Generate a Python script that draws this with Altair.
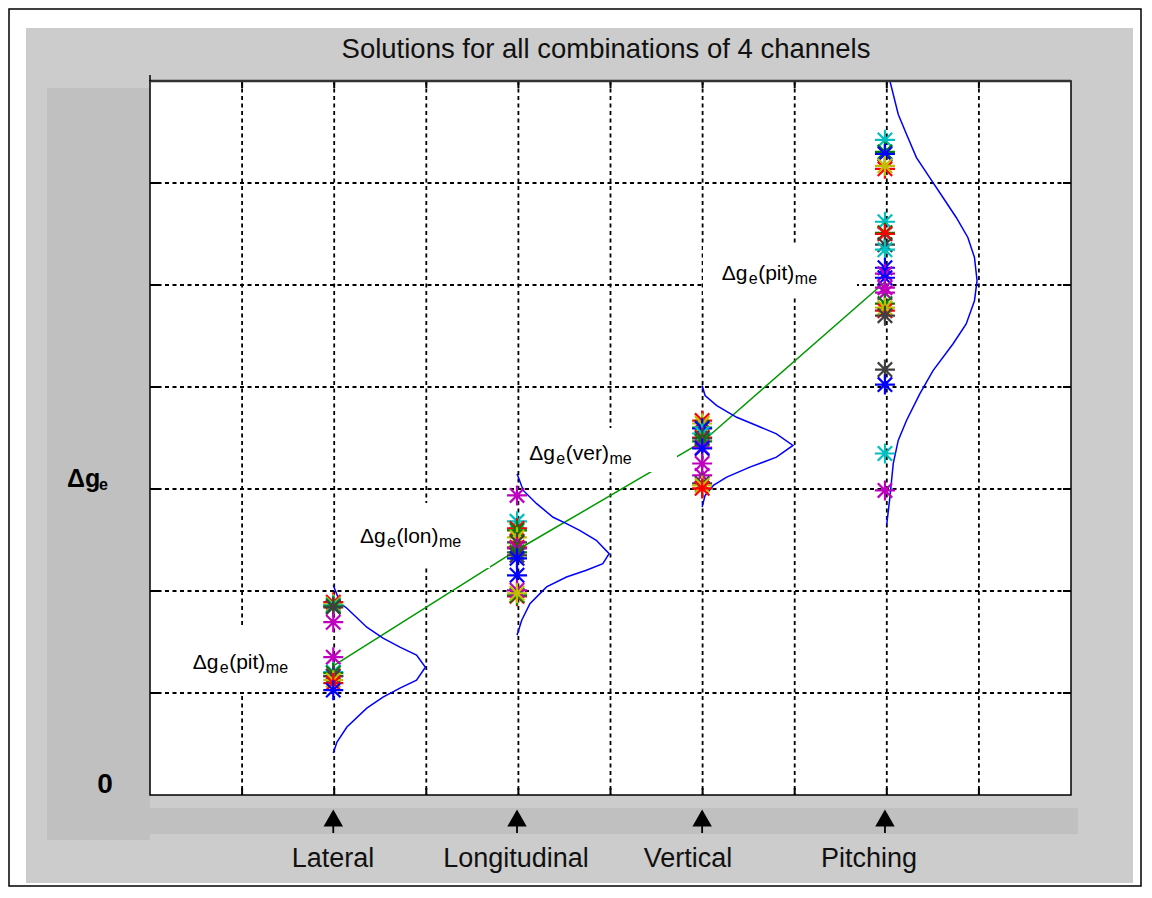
import altair as alt
import pandas as pd

# ---------------- data ----------------
categories = ["Lateral", "Longitudinal", "Vertical", "Pitching"]
category_pos = [1.99, 3.985, 5.995, 7.98]          # x position of each channel column
label_pos = [1.987, 3.974, 5.841, 7.807]           # x position of the text under each arrow
mean_values = [1.265, 2.402, 3.461, 5.029]         # green line (mean of each column)

# star markers: value and MATLAB colour letter, per column
lat_vals = [1.890, 1.870, 1.860, 1.850, 1.840, 1.694, 1.351, 1.205, 1.195, 1.165, 1.165, 1.126, 1.097, 1.028]
lat_cols = ["r", "y", "c", "g", "k", "m", "m", "c", "g", "m", "k", "y", "r", "b"]
lon_vals = [2.937, 2.683, 2.614, 2.594, 2.526, 2.477, 2.428, 2.418, 2.379, 2.350, 2.320, 2.154, 1.948, 1.958, 2.007, 1.978]
lon_cols = ["m", "c", "r", "g", "y", "k", "r", "m", "g", "k", "b", "b", "r", "g", "m", "y"]
ver_vals = [3.671, 3.642, 3.603, 3.593, 3.544, 3.505, 3.495, 3.466, 3.407, 3.397, 3.250, 3.133, 3.055, 3.035, 3.006]
ver_cols = ["r", "y", "g", "b", "c", "r", "k", "g", "m", "b", "m", "m", "k", "y", "r"]
pit_vals = [6.423, 6.305, 6.285, 6.139, 6.168, 5.620, 5.512, 5.502, 5.395, 5.346, 5.169, 5.111, 5.071,
            4.974, 4.925, 4.817, 4.748, 4.778, 4.699, 4.171, 4.024, 3.348, 2.986]
pit_cols = ["c", "g", "b", "r", "y", "c", "g", "r", "k", "c", "b", "m", "b",
            "m", "m", "g", "r", "y", "k", "k", "b", "c", "m"]

# blue distribution curves: value along y and horizontal extent (in grid units)
lat_curve_y = [2.056, 1.880, 1.831, 1.645, 1.537, 1.449, 1.371, 1.253, 1.126, 1.048, 0.959, 0.852, 0.666, 0.519, 0.411]
lat_curve_w = [0.0, 0.076, 0.148, 0.364, 0.54, 0.724, 0.904, 1.0, 0.904, 0.724, 0.54, 0.364, 0.148, 0.04, 0.0]
lon_curve_y = [3.150, 2.986, 2.856, 2.723, 2.660, 2.594, 2.497, 2.366, 2.268, 2.203, 2.137, 2.040, 1.876, 1.713, 1.566]
lon_curve_w = [0.0, 0.068, 0.213, 0.392, 0.537, 0.680, 0.861, 1.0, 0.932, 0.753, 0.537, 0.321, 0.140, 0.051, 0.0]
ver_curve_y = [4.014, 3.916, 3.818, 3.703, 3.622, 3.541, 3.427, 3.312, 3.214, 3.116, 3.035, 2.937, 2.823]
ver_curve_w = [0.0, 0.032, 0.159, 0.375, 0.591, 0.807, 0.986, 0.807, 0.518, 0.267, 0.122, 0.032, 0.0]
pit_curve_y = [7.000, 6.674, 6.478, 6.249, 6.053, 5.858, 5.662, 5.466, 5.270, 5.042, 4.846, 4.618, 4.422,
               4.161, 3.933, 3.672, 3.476, 3.248, 2.921, 2.643]
pit_curve_w = [0.054, 0.144, 0.234, 0.342, 0.486, 0.630, 0.774, 0.900, 0.972, 1.0, 0.972, 0.882, 0.738,
               0.522, 0.378, 0.234, 0.144, 0.090, 0.054, 0.018]

grid_x = [1, 2, 3, 4, 5, 6, 7, 8, 9]
grid_y = [1, 2, 3, 4, 5, 6]

title_text = "Solutions for all combinations of 4 channels"
ann_words = ["(pit)", "(lon)", "(ver)", "(pit)"]

# ---------------- styling / layout ----------------
COLORS = {"r": "#ff0000", "g": "#008000", "b": "#0000ff", "c": "#00bfbf",
          "m": "#bf00bf", "y": "#bfbf00", "k": "#404040"}
FONT = "Liberation Sans, Arial, Helvetica, sans-serif"
W, H = 921, 714
LEFT, TOP = 150, 81          # page position of the plot area's top-left corner
UX, UY = W / 10.0, H / 7.0   # pixels per unit

xs = alt.Scale(domain=[0, 10], nice=False, zero=False)
ys = alt.Scale(domain=[0, 7], nice=False, zero=False)
ONE = pd.DataFrame({"a": [0]})


def ux(p):  # page px -> x units
    return (p - LEFT) / UX


def uy(p):  # page px -> y units
    return (TOP + H - p) / UY


def box(x1, y1, x2, y2, **kw):
    return alt.Chart(ONE).mark_rect(**kw).encode(
        x=alt.value(x1 - LEFT), x2=alt.value(x2 - LEFT),
        y=alt.value(y1 - TOP), y2=alt.value(y2 - TOP))


X = lambda f: alt.X(f, scale=xs, axis=None)
Y = lambda f: alt.Y(f, scale=ys, axis=None)

# figure chrome
outer = box(9, 9, 1141, 886, fill="white", stroke="black", strokeWidth=1.5)
gray = box(26, 28, 1133, 883, fill="#cccccc")
dark_left = box(47, 88, 150, 840, fill="#c0c0c0")
dark_bottom = box(150, 808, 1078, 834, fill="#c0c0c0")
plot_bg = box(LEFT, TOP, LEFT + W, TOP + H, fill="white")

# grid
GRID = dict(color="black", strokeDash=[4, 3.5], strokeWidth=1.8)
gx = alt.Chart(pd.DataFrame({"v": grid_x})).mark_rule(**GRID).encode(
    x=X("v:Q"), y=alt.value(0), y2=alt.value(H))
gy = alt.Chart(pd.DataFrame({"v": grid_y})).mark_rule(**GRID).encode(
    y=Y("v:Q"), x=alt.value(0), x2=alt.value(W))

# inner ticks
tk = dict(color="black", strokeWidth=2)
tb = alt.Chart(pd.DataFrame({"v": grid_x})).mark_rule(**tk).encode(x=X("v:Q"), y=alt.value(H), y2=alt.value(H - 7))
tt = alt.Chart(pd.DataFrame({"v": grid_x})).mark_rule(**tk).encode(x=X("v:Q"), y=alt.value(0), y2=alt.value(7))
tl = alt.Chart(pd.DataFrame({"v": grid_y})).mark_rule(**tk).encode(y=Y("v:Q"), x=alt.value(0), x2=alt.value(8))
tr = alt.Chart(pd.DataFrame({"v": grid_y})).mark_rule(**tk).encode(y=Y("v:Q"), x=alt.value(W), x2=alt.value(W - 8))

# green mean line
mean_df = pd.DataFrame({"x": category_pos, "y": mean_values, "i": range(4)})
green = alt.Chart(mean_df).mark_line(color="#009900", strokeWidth=1.5).encode(
    x=X("x:Q"), y=Y("y:Q"), order="i:Q")

# white boxes behind the annotations (page px)
ann_boxes = [(185, 628, 300, 692), (350, 503, 490, 568), (525, 428, 677, 472), (703, 245, 857, 297)]
wb = alt.Chart(pd.DataFrame({
    "x1": [ux(b[0]) for b in ann_boxes], "x2": [ux(b[2]) for b in ann_boxes],
    "y1": [uy(b[1]) for b in ann_boxes], "y2": [uy(b[3]) for b in ann_boxes]})).mark_rect(
    fill="white").encode(x=X("x1:Q"), x2="x2:Q", y=Y("y1:Q"), y2="y2:Q")

# blue curves
rows = []
for c, pos, cy, cw in zip(categories, category_pos,
                          [lat_curve_y, lon_curve_y, ver_curve_y, pit_curve_y],
                          [lat_curve_w, lon_curve_w, ver_curve_w, pit_curve_w]):
    for i, (yy, ww) in enumerate(zip(cy, cw)):
        rows.append({"cat": c, "i": i, "x": pos + ww, "y": yy})
curves = alt.Chart(pd.DataFrame(rows)).mark_line(color="#0000ff", strokeWidth=1.5, clip=True).encode(
    x=X("x:Q"), y=Y("y:Q"), detail="cat:N", order="i:Q")

# stars
srows = []
k = 0
for pos, vals, cols in zip(category_pos, [lat_vals, lon_vals, ver_vals, pit_vals],
                           [lat_cols, lon_cols, ver_cols, pit_cols]):
    for v, c in zip(vals, cols):
        srows.append({"x": pos, "y": v, "col": COLORS[c], "k": k})
        k += 1
STAR = "M-1,0L1,0M0,-1L0,1M-0.72,-0.72L0.72,0.72M-0.72,0.72L0.72,-0.72"
stars = alt.Chart(pd.DataFrame(srows)).mark_point(
    shape=STAR, filled=False, size=400, strokeWidth=2.2, opacity=1).encode(
    x=X("x:Q"), y=Y("y:Q"), stroke=alt.Stroke("col:N", scale=None), order="k:Q")

# plot border
border = box(LEFT, TOP, LEFT + W, TOP + H, fill="transparent", stroke="black", strokeWidth=1.5)
top_line = alt.Chart(ONE).mark_rule(color="#333333", strokeWidth=2.5).encode(
    x=alt.value(0), x2=alt.value(W), y=alt.value(0))
left_ext = alt.Chart(ONE).mark_rule(color="black", strokeWidth=1.5).encode(
    x=alt.value(0), y=alt.value(-6), y2=alt.value(0))

# annotations  Δg_e(xxx)_me
CW = {"(": 0.333, ")": 0.333, "p": 0.556, "i": 0.222, "t": 0.278, "l": 0.222,
      "o": 0.556, "n": 0.556, "v": 0.5, "e": 0.556, "r": 0.333}
ann_anchor = [(192.7, 669.0), (360.0, 543.3), (529.3, 460.0), (721.7, 280.0)]
big, small = [], []
for word, (ax, ab) in zip(ann_words, ann_anchor):
    wpx = sum(CW[ch] for ch in word) * 21
    big.append({"t": "\u0394g", "x": ux(ax), "y": uy(ab)})
    small.append({"t": "e", "x": ux(ax + 27), "y": uy(ab + 4)})
    big.append({"t": word, "x": ux(ax + 36.5), "y": uy(ab)})
    small.append({"t": "me", "x": ux(ax + 36.5 + wpx + 0.5), "y": uy(ab + 4)})
ann_big = alt.Chart(pd.DataFrame(big)).mark_text(
    font=FONT, fontSize=21, align="left", baseline="alphabetic", color="black").encode(
    x=X("x:Q"), y=Y("y:Q"), text="t:N")
ann_small = alt.Chart(pd.DataFrame(small)).mark_text(
    font=FONT, fontSize=16, align="left", baseline="alphabetic", color="black").encode(
    x=X("x:Q"), y=Y("y:Q"), text="t:N")

# x "labels": arrows and channel names
arr_df = pd.DataFrame({"x": category_pos})
arrows = alt.Chart(arr_df).mark_point(shape="triangle-up", filled=True, color="black",
                                      size=380, opacity=1).encode(
    x=X("x:Q"), y=alt.value(818 - TOP))
stems = alt.Chart(arr_df).mark_rule(color="black", strokeWidth=1.8).encode(
    x=X("x:Q"), y=alt.value(820 - TOP), y2=alt.value(833 - TOP))
xlabels = alt.Chart(pd.DataFrame({"x": label_pos, "t": categories})).mark_text(
    font=FONT, fontSize=27, align="center", baseline="alphabetic", color="#111111").encode(
    x=X("x:Q"), y=alt.value(867 - TOP), text="t:N")

title = alt.Chart(pd.DataFrame({"t": [title_text]})).mark_text(
    font=FONT, fontSize=27.5, align="center", baseline="alphabetic", color="#111111").encode(
    x=alt.value(606 - LEFT), y=alt.value(58 - TOP), text="t:N")

# y "labels"
yl1 = alt.Chart(pd.DataFrame({"t": ["\u0394g"]})).mark_text(
    font=FONT, fontSize=25, fontWeight="bold", align="left", baseline="alphabetic", color="black").encode(
    x=alt.value(67 - LEFT), y=alt.value(487 - TOP), text="t:N")
yl2 = alt.Chart(pd.DataFrame({"t": ["e"]})).mark_text(
    font=FONT, fontSize=16, fontWeight="bold", align="left", baseline="alphabetic", color="black").encode(
    x=alt.value(99 - LEFT), y=alt.value(490 - TOP), text="t:N")
yl0 = alt.Chart(pd.DataFrame({"t": ["0"]})).mark_text(
    font=FONT, fontSize=28, fontWeight="bold", align="center", baseline="alphabetic", color="black").encode(
    x=alt.value(105 - LEFT), y=alt.value(793 - TOP), text="t:N")

chart = alt.layer(
    outer, gray, dark_left, dark_bottom, plot_bg,
    gx, gy, tb, tt, tl, tr,
    green, wb, curves, stars,
    border, top_line, left_ext,
    ann_big, ann_small, arrows, stems, xlabels, title, yl1, yl2, yl0,
).properties(
    width=W, height=H,
    padding={"left": LEFT - 8, "top": TOP - 8, "right": 1134 - (LEFT - 8) - W, "bottom": 880 - (TOP - 8) - H},
    autosize=alt.AutoSizeParams(type="none"),
).configure_view(strokeWidth=0).configure(background="white")

chart.save("out.html", embed_options={"renderer": "svg", "actions": False})
